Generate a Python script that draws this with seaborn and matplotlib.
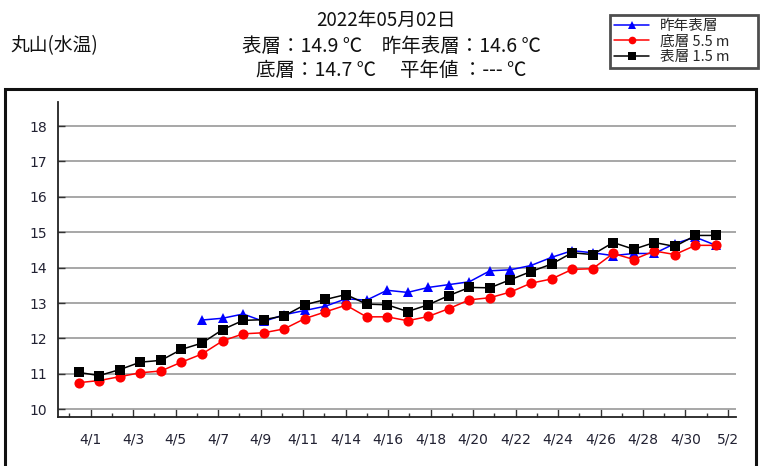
import numpy as np
import pandas as pd
import matplotlib
matplotlib.use("Agg")
import matplotlib.pyplot as plt
import seaborn as sns
from matplotlib.patches import Rectangle

# ---------------- data ----------------
dates = pd.date_range("2022-03-31 10:00", periods=32, freq="D")
surface_1_5m = [11.04, 10.95, 11.12, 11.33, 11.38, 11.69, 11.87, 12.25, 12.51, 12.53,
                12.64, 12.95, 13.10, 13.24, 12.97, 12.95, 12.76, 12.95, 13.21, 13.44,
                13.43, 13.66, 13.89, 14.10, 14.42, 14.37, 14.71, 14.52, 14.71, 14.60,
                14.91, 14.91]
bottom_5_5m = [10.75, 10.81, 10.92, 11.03, 11.08, 11.33, 11.56, 11.93, 12.13, 12.16,
               12.27, 12.56, 12.75, 12.94, 12.61, 12.61, 12.50, 12.62, 12.84, 13.09,
               13.15, 13.31, 13.56, 13.68, 13.95, 13.97, 14.40, 14.23, 14.47, 14.37,
               14.63, 14.63]
last_year_surface = [np.nan] * 6 + [12.52, 12.57, 12.69, 12.48, 12.67, 12.79, 12.91, 13.12,
                                    13.08, 13.36, 13.30, 13.44, 13.52, 13.60, 13.91, 13.94,
                                    14.06, 14.29, 14.48, 14.42, 14.34, 14.40, 14.40, 14.68,
                                    14.86, 14.63]
series_names = ["昨年表層", "底層 5.5 m", "表層 1.5 m"]
tick_labels = ["4/1", "4/3", "4/5", "4/7", "4/9", "4/11", "4/14", "4/16", "4/18",
               "4/20", "4/22", "4/24", "4/26", "4/28", "4/30", "5/2"]
y_ticks = [10, 11, 12, 13, 14, 15, 16, 17, 18]

station = "丸山(水温)"
title_date = "2022年05月02日"
line2 = "表層：14.9 ℃\u3000昨年表層：14.6 ℃"
line3 = "底層：14.7 ℃\u3000 平年値 ：--- ℃"

# ---------------- style ----------------
sns.set_style("white")
plt.rcParams["font.family"] = ["DejaVu Sans", "Noto Sans CJK JP"]
CJK = ["Noto Sans CJK JP", "DejaVu Sans"]

W, H = 770, 466
fig = plt.figure(figsize=(W / 100, H / 100), dpi=100)
ax = fig.add_axes([58 / W, 1 - 417 / H, (736 - 58) / W, (417 - 102) / H])

origin = pd.Timestamp("2022-04-01")
days = (dates - origin) / pd.Timedelta(days=1)
df = pd.DataFrame({"x": days, "surf": surface_1_5m, "bot": bottom_5_5m,
                   "last": last_year_surface})

sns.lineplot(data=df, x="x", y="last", ax=ax, color="#0000ff", marker="^",
             markersize=7, markeredgewidth=0, linewidth=1.1, label=series_names[0])
sns.lineplot(data=df, x="x", y="bot", ax=ax, color="#ff0000", marker="o",
             markersize=7.3, markeredgewidth=0, linewidth=1.1, label=series_names[1])
sns.lineplot(data=df, x="x", y="surf", ax=ax, color="#000000", marker="s",
             markersize=7, markeredgewidth=0, linewidth=1.1, label=series_names[2])

ax.set_xlim(-1.59, 31.39)
ax.set_ylim(9.78, 18.68)
ax.set_xlabel("")
ax.set_ylabel("")

n = len(tick_labels)
step = 31 / (n - 1)
major = np.arange(n) * step
minor = np.concatenate([major - step / 2, [major[-1] + step / 2]])
minor = minor[(minor > -1.59) & (minor < 31.39)]
ax.set_xticks(major)
ax.set_xticklabels(tick_labels)
ax.set_xticks(minor, minor=True)
ax.set_yticks(y_ticks)
ax.set_yticklabels([str(v) for v in y_ticks])

ax.tick_params(axis="x", which="major", direction="in", length=5.5, width=1,
               color="#333333", pad=11, labelsize=10, labelcolor="#222233")
ax.tick_params(axis="x", which="minor", direction="in", length=3, width=1,
               color="#333333")
ax.tick_params(axis="y", which="major", direction="in", length=5, width=1,
               color="#333333", pad=8, labelsize=10, labelcolor="#222233")
ax.tick_params(bottom=True, left=True, which="both")

ax.grid(axis="y", color="#a0a0a0", linewidth=1.3)
ax.grid(axis="x", visible=False)
for s in ["top", "right"]:
    ax.spines[s].set_visible(False)
for s in ["left", "bottom"]:
    ax.spines[s].set_color("#222222")
    ax.spines[s].set_linewidth(1.3)

# legend (box spans the reference legend area)
lx0, lx1, ly0, ly1 = 610, 758, 15, 67
leg = ax.legend(loc="upper left",
                bbox_to_anchor=(lx0 / W, 1 - ly1 / H, (lx1 - lx0) / W, (ly1 - ly0) / H),
                bbox_transform=fig.transFigure, mode="expand", frameon=True,
                fancybox=False, prop={"family": CJK, "size": 10.5}, handlelength=2.4,
                handletextpad=0.7, labelspacing=0.08, borderpad=0.3,
                borderaxespad=0)
leg.get_frame().set_edgecolor("#222222")
leg.get_frame().set_linewidth(2)
for h in leg.get_lines():
    h.set_markersize(5.5)

# outer frame
fig.add_artist(Rectangle((5 / W, -0.1), (756 - 5) / W, 0.1 + 1 - 89 / H,
                         transform=fig.transFigure, fill=False,
                         edgecolor="#111111", linewidth=2.2, clip_on=False))

# titles
fig.text(10 / W, 1 - 46 / H, station, family=CJK, fontsize=13.5, ha="left",
         va="center", color="#111111")
fig.text(386 / W, 1 - 20 / H, title_date, family=CJK, fontsize=13.5, ha="center",
         va="center", color="#111111")
fig.text(391 / W, 1 - 46 / H, line2, family=CJK, fontsize=14, ha="center",
         va="center", color="#111111")
fig.text(391 / W, 1 - 71 / H, line3, family=CJK, fontsize=14, ha="center",
         va="center", color="#111111")

fig.savefig("out.png", dpi=100)
